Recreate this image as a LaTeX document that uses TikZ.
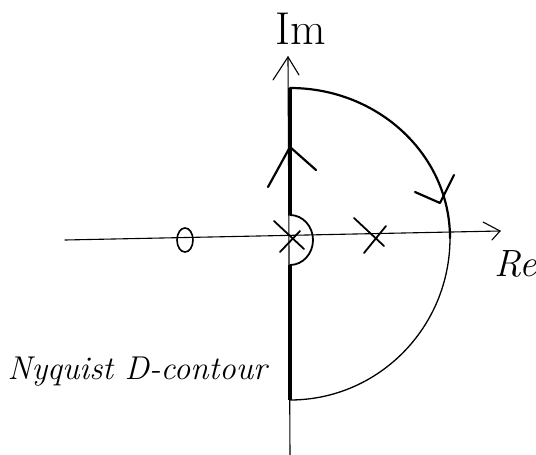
\documentclass[tikz,border=0pt]{standalone}
\usetikzlibrary{calc}
\begin{document}
\begin{tikzpicture}[x=1pt,y=-1pt,
  axis/.style={line width=1.1pt,line cap=round},
  contour/.style={line width=2.2pt,line cap=round,line join=round}]
\useasboundingbox (0,0) rectangle (536,455);
% coordinates
\coordinate (origin) at (290,237);
\coordinate (imtip) at (288,57);
\coordinate (imbot) at (290,455);
\coordinate (releft) at (65,240);
\coordinate (retip) at (500,231);
% axes
\draw[axis] (imbot) -- (imtip);
\draw[axis] (273,80) -- (imtip) -- (299,75);
\draw[axis] (releft) -- (retip);
\draw[axis] (483,222) -- (retip) -- (492,240);
% labels
\node[font=\fontsize{46}{50}\selectfont] (im) at (301,29) {Im};
\node[font=\fontsize{38}{42}\selectfont\itshape,inner sep=0pt,anchor=west] (re) at (494,264) {Re};
\node[font=\fontsize{33}{36}\selectfont\itshape,anchor=west] (cap) at (4,372) {Nyquist D-contour};
% contour along imaginary axis
\coordinate (ctop) at (290,88);
\coordinate (cbot) at (290,400);
\draw[line width=3.6pt] (ctop) -- (290,215);
\draw[line width=3.6pt] (290,265) -- (cbot);
% small indentation
\draw[contour,line width=1.8pt] (290,215) arc[start angle=-90,end angle=90,x radius=23,y radius=25];
% big arc
\draw[contour] (ctop) arc[start angle=-90,end angle=0,x radius=160,y radius=150];
\draw[contour,line width=1.3pt] (450,238) arc[start angle=0,end angle=90,x radius=160,y radius=162];
% direction arrows
\draw[contour] (268,187) -- (290,147) -- (316,170);
\draw[contour] (415,192) -- (440,203) -- (454,175);
% poles and zero
\draw[contour,line width=1.8pt] (274,221) -- (304,249);
\draw[contour,line width=1.8pt] (280,252) -- (300,231);
\draw[contour,line width=1.8pt] (354,218) -- (384,246);
\draw[contour,line width=1.8pt] (364,253) -- (386,226);
\draw[line width=1.6pt] (185,240) ellipse[x radius=8,y radius=12];
\end{tikzpicture}
\end{document}
